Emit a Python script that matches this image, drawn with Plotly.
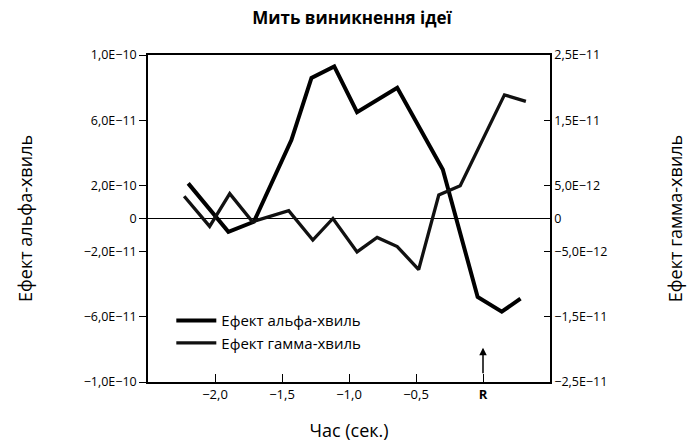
import plotly.graph_objects as go

# ---- data ----
alpha_t = [-2.20, -1.90, -1.71, -1.43, -1.28, -1.11, -0.94, -0.64, -0.30, -0.04, 0.14, 0.28]
alpha_v = [2.15e-11, -8.1e-12, -2.0e-12, 4.8e-11, 8.6e-11, 9.3e-11, 6.5e-11, 8.0e-11, 3.0e-11, -4.8e-11, -5.7e-11, -4.9e-11]

gamma_t = [-2.23, -2.04, -1.89, -1.72, -1.45, -1.27, -1.12, -0.94, -0.79, -0.64, -0.48, -0.33, -0.17, 0.16, 0.32]
gamma_v = [3.4e-12, -1.2e-12, 3.8e-12, -0.5e-12, 1.2e-12, -3.3e-12, 0.0, -5.1e-12, -2.9e-12, -4.3e-12, -7.8e-12, 3.6e-12, 5.0e-12, 1.89e-11, 1.79e-11]

x_tickvals = [-2.0, -1.5, -1.0, -0.5, 0.0]
x_ticktext = ["−2,0", "−1,5", "−1,0", "−0,5", "<b>R</b>"]

y_tickvals = [-1e-10, -6e-11, -2e-11, 0, 2e-11, 6e-11, 1e-10]
y_ticktext = ["−1,0E−10", "−6,0E−11", "−2,0E−11", "0", "2,0E−10", "6,0E−11", "1,0E−10"]

y2_tickvals = [-2.5e-11, -1.5e-11, -5e-12, 0, 5e-12, 1.5e-11, 2.5e-11]
y2_ticktext = ["−2,5E−11", "−1,5E−11", "−5,0E−12", "0", "5,0E−12", "1,5E−11", "2,5E−11"]

FONT = "Open Sans"

fig = go.Figure()
fig.add_trace(go.Scatter(x=alpha_t, y=alpha_v, mode="lines", name="Ефект альфа-хвиль",
                         line=dict(color="black", width=4), yaxis="y"))
fig.add_trace(go.Scatter(x=gamma_t, y=gamma_v, mode="lines", name="Ефект гамма-хвиль",
                         line=dict(color="#111111", width=3.3), yaxis="y2"))

fig.add_annotation(x=0.0, y=-7.9e-11, xref="x", yref="y", ax=0, ay=27,
                   showarrow=True, arrowhead=2, arrowsize=1, arrowwidth=1.5,
                   arrowcolor="black", text="")

fig.update_layout(
    width=687, height=442,
    margin=dict(l=148, r=137, t=55, b=60),
    paper_bgcolor="white", plot_bgcolor="white",
    font=dict(family=FONT, color="black", size=12),
    title=dict(text="<b>Мить виникнення ідеї</b>", x=352 / 687, xanchor="center",
               y=1 - 18 / 442, yanchor="middle", font=dict(size=17), automargin=False),
    showlegend=True,
    legend=dict(x=0.058, y=0.154, xanchor="left", yanchor="middle", bgcolor="rgba(0,0,0,0)",
                font=dict(size=15), tracegroupgap=0, itemwidth=40),
    xaxis=dict(range=[-2.5, 0.5], tickvals=x_tickvals, ticktext=x_ticktext, automargin=False,
               ticks="inside", ticklen=8, tickcolor="black", showgrid=False, zeroline=False,
               showline=True, linecolor="black", linewidth=1.5, mirror=True,
               tickfont=dict(size=13),
               title=dict(text="Час (сек.)", font=dict(size=18), standoff=23)),
    yaxis=dict(range=[-1e-10, 1e-10], tickvals=y_tickvals, ticktext=y_ticktext, automargin=False,
               ticks="outside", ticklen=7, tickcolor="black", showgrid=False,
               zeroline=True, zerolinecolor="black", zerolinewidth=1,
               showline=True, linecolor="black", linewidth=1.5,
               tickfont=dict(size=12.5),
               title=dict(text="Ефект альфа-хвиль", font=dict(size=18), standoff=46)),
    yaxis2=dict(range=[-2.5e-11, 2.5e-11], tickvals=y2_tickvals, ticktext=y2_ticktext, automargin=False,
                overlaying="y", side="right", ticks="inside", ticklen=6, tickcolor="black",
                showgrid=False, zeroline=False, showline=True, linecolor="black", linewidth=1.5,
                tickfont=dict(size=12.5),
                title=dict(text="Ефект гамма-хвиль", font=dict(size=18), standoff=68)),
)

fig.write_html("out.html")
